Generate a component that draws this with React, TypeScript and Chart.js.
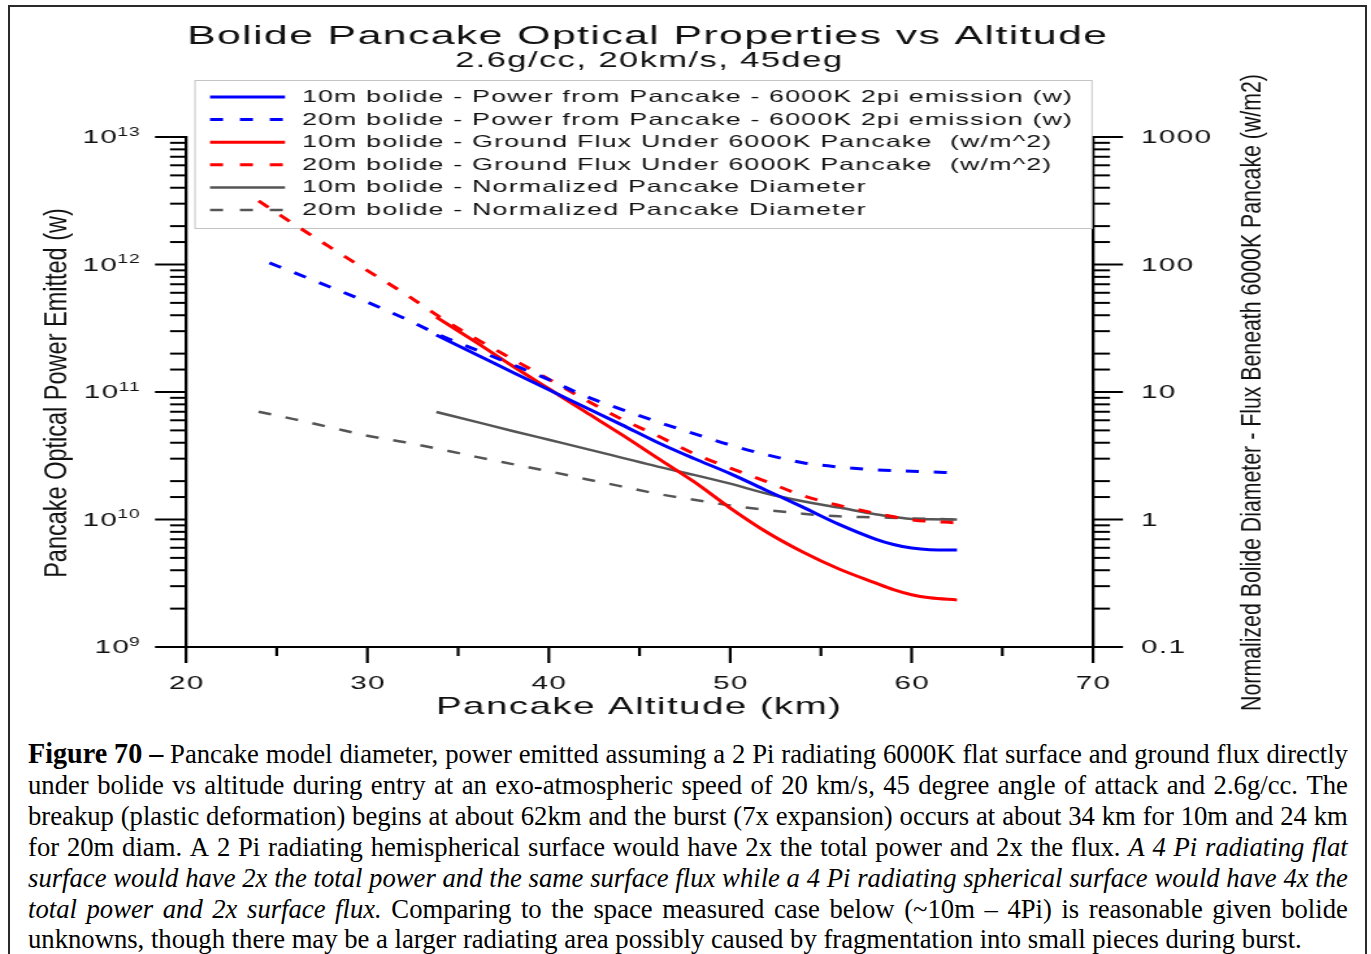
import React, { useEffect, useRef } from 'react';
import { Chart, registerables } from 'chart.js';

Chart.register(...registerables);

// ---------- data ----------
const altitude10 = [33.8, 36, 38, 40, 42, 44, 46, 48, 50, 52, 54, 56, 58, 59, 60, 61, 62.5];
const altitude20 = [24, 26, 28, 30, 32, 34, 36, 38, 40, 42, 44, 46, 48, 50, 52, 54, 56, 58, 60, 62.5];
const altitude20Power = [24.6, 26, 28, 30, 32, 34, 36, 38, 40, 42, 44, 46, 48, 50, 52, 54, 56, 58, 60, 62.5];

const power10 = [2.8e11, 1.97e11, 1.43e11, 1.04e11, 7.6e10, 5.55e10, 4.02e10, 3.01e10, 2.29e10, 1.69e10, 1.25e10, 9.16e9, 7.03e9, 6.37e9, 5.97e9, 5.8e9, 5.77e9];
const power20 = [1.03e12, 8.59e11, 6.61e11, 5.06e11, 3.8e11, 2.79e11, 2.14e11, 1.64e11, 1.25e11, 9.29e10, 7.31e10, 5.83e10, 4.71e10, 3.84e10, 3.22e10, 2.79e10, 2.58e10, 2.45e10, 2.39e10, 2.32e10];
const flux10 = [38.7, 24.5, 16.0, 10.6, 7.01, 4.65, 3.03, 1.98, 1.23, 0.798, 0.556, 0.409, 0.318, 0.282, 0.257, 0.243, 0.234];
const flux20 = [316, 205, 135, 89.5, 59.8, 38.7, 26.1, 18.1, 12.6, 8.71, 6.15, 4.53, 3.29, 2.53, 1.98, 1.54, 1.29, 1.12, 0.995, 0.94];
const diameter10 = [6.97, 5.83, 4.95, 4.22, 3.6, 3.06, 2.6, 2.24, 1.91, 1.6, 1.39, 1.24, 1.1, 1.05, 1.01, 1.005, 1.0];
const diameter20 = [7.01, 6.1, 5.26, 4.54, 4.05, 3.56, 3.1, 2.72, 2.39, 2.08, 1.82, 1.59, 1.43, 1.29, 1.19, 1.11, 1.06, 1.04, 1.02, 1.0];

const seriesLabels = [
  '10m bolide - Power from Pancake - 6000K 2pi emission (w)',
  '20m bolide - Power from Pancake - 6000K 2pi emission (w)',
  '10m bolide - Ground Flux Under 6000K Pancake  (w/m^2)',
  '20m bolide - Ground Flux Under 6000K Pancake  (w/m^2)',
  '10m bolide - Normalized Pancake Diameter',
  '20m bolide - Normalized Pancake Diameter',
];

const xMajorTicks = [20, 30, 40, 50, 60, 70];
const xMinorTicks = [25, 35, 45, 55, 65];
const leftTickValues = [1e9, 1e10, 1e11, 1e12, 1e13];
const leftTickExponents = ['9', '10', '11', '12', '13'];
const rightTickValues = [0.1, 1, 10, 100, 1000];
const rightTickLabels = ['0.1', '1', '10', '100', '1000'];

const chartTitle = 'Bolide Pancake Optical Properties vs Altitude';
const chartSubtitle = '2.6g/cc, 20km/s, 45deg';
const xTitle = 'Pancake Altitude (km)';
const yTitle = 'Pancake Optical Power Emitted (w)';
const y2Title = 'Normalized Bolide Diameter - Flux Beneath 6000K Pancake (w/m2)';

// caption lines: [text, style] segments; style: '' normal, 'b' bold, 'i' italic
const captionLines: [string, string][][] = [
  [['Figure 70 –', 'b'], ['Pancake model diameter, power emitted assuming a 2 Pi radiating 6000K flat surface and ground flux directly', '']],
  [['under bolide vs altitude during entry at an exo-atmospheric speed of 20 km/s, 45 degree angle of attack and 2.6g/cc. The', '']],
  [['breakup (plastic deformation) begins at about 62km and the burst (7x expansion) occurs at about 34 km for 10m and 24 km', '']],
  [['for 20m diam. A 2 Pi radiating hemispherical surface would have 2x the total power and 2x the flux.', ''], ['A 4 Pi radiating flat', 'i']],
  [['surface would have 2x the total power and the same surface flux while a 4 Pi radiating spherical surface would have 4x the', 'i']],
  [['total power and 2x surface flux.', 'i'], ['Comparing to the space measured case below (~10m – 4Pi) is reasonable given bolide', '']],
  [['unknowns, though there may be a larger radiating area possibly caused by fragmentation into small pieces during burst.', '']],
];

// ---------- geometry ----------
const PAGE_W = 1371;
const CW = 1055; // canvas drawn narrower, then stretched horizontally by CSS
const CH = 730;
const SX = PAGE_W / CW;
const px = (x: number) => x / SX;
const FONT = '"Liberation Sans", Arial, Helvetica, sans-serif';
const TICK_H = 1.6;
const TICK_FONT = 18.5;

const BLUE = '#0000ff';
const RED = '#ff0000';
const GRAY = '#555555';
const DASH = [10, 11.5];

const pts = (xs: number[], ys: number[]) => xs.map((x, i) => ({ x, y: ys[i] }));
const matchIndex = (vals: number[], v: number) => vals.findIndex((t) => Math.abs(t - v) / t < 1e-6);

function pageWidth(ctx: any, text: string, size: number, h: number, spacingPage: number) {
  ctx.save();
  ctx.font = `${size}px ${FONT}`;
  ctx.letterSpacing = `${spacingPage / h}px`;
  const w = ctx.measureText(text).width * h;
  ctx.restore();
  return w;
}

function drawText(ctx: any, text: string, xPage: number, y: number, size: number, h: number, spacingPage: number, baseline: string) {
  ctx.save();
  ctx.font = `${size}px ${FONT}`;
  ctx.letterSpacing = `${spacingPage / h}px`;
  ctx.textAlign = 'left';
  ctx.textBaseline = baseline;
  ctx.translate(px(xPage), y);
  ctx.scale(h / SX, 1);
  ctx.fillText(text, 0, 0);
  ctx.restore();
}

function drawFit(ctx: any, text: string, x0: number, x1: number, y: number, size: number, spacingPage: number) {
  ctx.save();
  ctx.font = `${size}px ${FONT}`;
  ctx.letterSpacing = '0px';
  const w0 = ctx.measureText(text).width;
  ctx.restore();
  const h = (x1 - x0 - spacingPage * (text.length - 1)) / w0;
  drawText(ctx, text, x0, y, size, h, spacingPage, 'alphabetic');
}

const legendPlugin = {
  id: 'boxLegend',
  beforeDatasetsDraw(chart: any) {
    const ctx = chart.ctx as any;
    ctx.save();
    ctx.letterSpacing = '0px';
    ctx.strokeStyle = '#c4c4c4';
    ctx.lineWidth = 1;
    ctx.strokeRect(px(195), 80.5, px(1092) - px(195), 148);
    ctx.font = `16.5px ${FONT}`;
    const first = chart.data.datasets[0].label as string;
    const h = (1073 - 303 - 1.2 * (first.length - 1)) / ctx.measureText(first).width;
    chart.data.datasets.forEach((ds: any, i: number) => {
      const yy = 97 + i * 22.6;
      ctx.beginPath();
      ctx.strokeStyle = ds.borderColor;
      ctx.lineWidth = ds.borderWidth;
      ctx.setLineDash(ds.borderDash && ds.borderDash.length ? [10, 13] : []);
      ctx.moveTo(px(210), yy);
      ctx.lineTo(px(285), yy);
      ctx.stroke();
      ctx.setLineDash([]);
      ctx.fillStyle = '#111';
      drawText(ctx, ds.label, 302, yy + 0.5, 16.5, h, 1.2, 'middle');
    });
    ctx.restore();
  },
};

const decorPlugin = {
  id: 'decor',
  afterDraw(chart: any) {
    const ctx = chart.ctx as any;
    const { x, y, y2 } = chart.scales;
    const a = chart.chartArea;
    ctx.save();
    ctx.strokeStyle = '#000';
    ctx.fillStyle = '#111';
    ctx.lineWidth = 2;
    y.ticks.forEach((t: any) => {
      const py = y.getPixelForValue(t.value);
      const mi = matchIndex(leftTickValues, t.value);
      const len = px(mi >= 0 ? 31 : 16);
      ctx.beginPath();
      ctx.moveTo(a.left - len, py);
      ctx.lineTo(a.left, py);
      ctx.stroke();
      if (mi >= 0) {
        const sup = leftTickExponents[mi];
        const supW = pageWidth(ctx, sup, 12, TICK_H, 1.2);
        const baseW = pageWidth(ctx, '10', TICK_FONT, TICK_H, 1.4);
        drawText(ctx, sup, 141 - supW, py - 1.5, 12, TICK_H, 1.2, 'alphabetic');
        drawText(ctx, '10', 141 - supW - baseW + 1, py + 1, TICK_FONT, TICK_H, 1.4, 'middle');
      }
    });
    y2.ticks.forEach((t: any) => {
      const py = y2.getPixelForValue(t.value);
      const mi = matchIndex(rightTickValues, t.value);
      const len = px(mi >= 0 ? 30 : 17);
      ctx.beginPath();
      ctx.moveTo(a.right, py);
      ctx.lineTo(a.right + len, py);
      ctx.stroke();
      if (mi >= 0) {
        drawText(ctx, rightTickLabels[mi], 1141, py + 1, TICK_FONT, TICK_H, 1.4, 'middle');
      }
    });
    ctx.lineWidth = 2.2;
    xMajorTicks.forEach((v) => {
      const xc = x.getPixelForValue(v);
      ctx.beginPath();
      ctx.moveTo(xc, a.bottom);
      ctx.lineTo(xc, a.bottom + 16);
      ctx.stroke();
      const label = String(v);
      const w = pageWidth(ctx, label, TICK_FONT, TICK_H, 1.4);
      drawText(ctx, label, xc * SX - w / 2 + 0.7, 683.5, TICK_FONT, TICK_H, 1.4, 'middle');
    });
    xMinorTicks.forEach((v) => {
      const xc = x.getPixelForValue(v);
      ctx.beginPath();
      ctx.moveTo(xc, a.bottom);
      ctx.lineTo(xc, a.bottom + 9);
      ctx.stroke();
    });

    drawFit(ctx, chartTitle, 187, 1107, 43.5, 25.5, 1.4);
    drawFit(ctx, chartSubtitle, 455, 842, 66.5, 21.3, 1.4);
    drawFit(ctx, xTitle, 436, 841, 714, 23.6, 1.4);

    ctx.letterSpacing = '0px';
    ctx.textAlign = 'center';
    ctx.textBaseline = 'alphabetic';
    ctx.save();
    ctx.translate(px(66), 393);
    ctx.rotate(-Math.PI / 2);
    ctx.font = `23.5px ${FONT}`;
    ctx.fillText(yTitle, 0, 0);
    ctx.restore();

    ctx.save();
    ctx.translate(px(1260), 392.5);
    ctx.rotate(-Math.PI / 2);
    ctx.font = `21.3px ${FONT}`;
    ctx.fillText(y2Title, 0, 0);
    ctx.restore();

    ctx.restore();
  },
};

function line(label: string, data: any[], color: string, width: number, dashed: boolean, axis: string) {
  return {
    label,
    data,
    borderColor: color,
    backgroundColor: color,
    borderWidth: width,
    borderDash: dashed ? DASH : [],
    pointRadius: 0,
    fill: false,
    cubicInterpolationMode: 'monotone' as const,
    yAxisID: axis,
  };
}

const CAP_SCALE = 0.9875;

function Word({ text, style }: { text: string; style: string }) {
  if (style === 'b') return <b style={{ fontSize: 28.5 }}>{text}</b>;
  if (style === 'i') return <i>{text}</i>;
  return <span>{text}</span>;
}

function CaptionLine({ segs, last }: { segs: [string, string][]; last: boolean }) {
  if (last) {
    return (
      <div style={{ whiteSpace: 'nowrap' }}>
        {segs.map(([t, s], i) => (
          <Word key={i} text={t} style={s} />
        ))}
      </div>
    );
  }
  const words: [string, string][] = [];
  segs.forEach(([t, s]) => t.split(' ').forEach((w) => w && words.push([w, s])));
  return (
    <div style={{ display: 'flex', justifyContent: 'space-between', whiteSpace: 'nowrap', alignItems: 'baseline' }}>
      {words.map(([w, s], i) => (
        <Word key={i} text={w} style={s} />
      ))}
    </div>
  );
}

export default function App() {
  const ref = useRef<HTMLCanvasElement>(null);

  useEffect(() => {
    const canvas = ref.current;
    if (!canvas) return;
    const chart = new Chart(canvas, {
      type: 'line',
      data: {
        datasets: [
          line(seriesLabels[0], pts(altitude10, power10), BLUE, 3, false, 'y'),
          line(seriesLabels[1], pts(altitude20Power, power20), BLUE, 3, true, 'y'),
          line(seriesLabels[2], pts(altitude10, flux10), RED, 3, false, 'y2'),
          line(seriesLabels[3], pts(altitude20, flux20), RED, 3, true, 'y2'),
          line(seriesLabels[4], pts(altitude10, diameter10), GRAY, 2.5, false, 'y2'),
          line(seriesLabels[5], pts(altitude20, diameter20), GRAY, 2.5, true, 'y2'),
        ],
      },
      options: {
        responsive: false,
        animation: false,
        devicePixelRatio: 1,
        events: [],
        layout: { padding: { top: 137, left: 0, right: 0, bottom: 0 } },
        plugins: {
          legend: { display: false },
          title: { display: false },
          tooltip: { enabled: false },
        },
        scales: {
          x: {
            type: 'linear',
            min: 20,
            max: 70,
            afterFit: (s: any) => {
              s.height = CH - 647;
            },
            ticks: { display: false, stepSize: 10 },
            grid: { drawOnChartArea: false, drawTicks: false },
            border: { color: '#000', width: 2 },
          },
          y: {
            type: 'logarithmic',
            position: 'left',
            min: 1e9,
            max: 1e13,
            afterFit: (s: any) => {
              s.width = px(186);
            },
            ticks: { display: false, autoSkip: false },
            grid: { drawOnChartArea: false, drawTicks: false },
            border: { color: '#000', width: 2.3 },
          },
          y2: {
            type: 'logarithmic',
            position: 'right',
            min: 0.1,
            max: 1000,
            afterFit: (s: any) => {
              s.width = CW - px(1093);
            },
            ticks: { display: false, autoSkip: false },
            grid: { drawOnChartArea: false, drawTicks: false },
            border: { color: '#000', width: 2.3 },
          },
        },
      } as any,
      plugins: [legendPlugin, decorPlugin],
    });
    return () => chart.destroy();
  }, []);

  return (
    <div style={{ position: 'absolute', left: 0, top: 0, width: 1371, height: 954, overflow: 'hidden', background: '#fff' }}>
      <div
        style={{
          position: 'absolute',
          left: 8,
          top: 5,
          width: 1359,
          height: 960,
          borderTop: '2px solid #2a2a2a',
          borderLeft: '2px solid #2a2a2a',
          borderRight: '2px solid #2a2a2a',
          boxSizing: 'border-box',
        }}
      />
      <canvas
        ref={ref}
        width={CW}
        height={CH}
        style={{ position: 'absolute', left: 0, top: 0, width: `${PAGE_W}px`, height: `${CH}px` }}
      />
      <div
        style={{
          position: 'absolute',
          left: 28,
          top: 739,
          width: 1320 / CAP_SCALE,
          transform: `scaleX(${CAP_SCALE})`,
          transformOrigin: '0 0',
          fontFamily: '"Liberation Serif", "Times New Roman", serif',
          fontSize: 27,
          lineHeight: '30.9px',
          color: '#000',
        }}
      >
        {captionLines.map((segs, i) => (
          <CaptionLine key={i} segs={segs} last={i === captionLines.length - 1} />
        ))}
      </div>
    </div>
  );
}
